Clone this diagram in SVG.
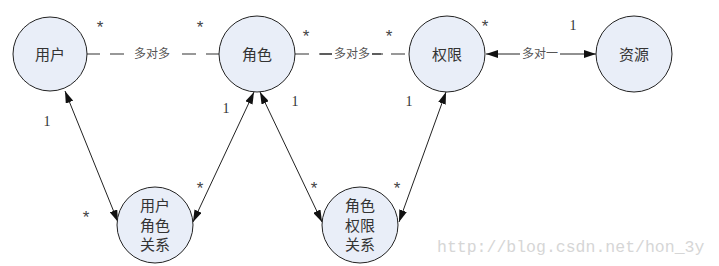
<svg xmlns="http://www.w3.org/2000/svg" width="719" height="266" viewBox="0 0 719 266">
<style>
.node{fill:#e9eef8;stroke:#222;stroke-width:1}
.nl{font-family:"Noto Sans CJK SC","Noto Sans",sans-serif;font-size:15px;fill:#333;text-anchor:middle}
.el{font-family:"Noto Sans CJK SC","Noto Sans",sans-serif;font-size:12px;fill:#555;text-anchor:middle}
.m{font-family:"Liberation Serif",serif;font-size:14px;fill:#333;text-anchor:middle}
.s{font-family:"Liberation Sans",sans-serif;font-size:17px;fill:#444;text-anchor:middle}
.ln{stroke:#222;stroke-width:1;fill:none}
.dash{stroke:#333;stroke-width:1.2;stroke-dasharray:14 10;fill:none}
.wm{font-family:"Liberation Mono",monospace;font-size:16.5px;fill:#d6d6d6}
</style>
<defs>
<marker id="ah" viewBox="0 0 12 8" refX="12" refY="4" markerWidth="12" markerHeight="8" markerUnits="userSpaceOnUse" orient="auto-start-reverse">
<path d="M0,0 L12,4 L0,8 Z" fill="#111"/>
</marker>
</defs>
<rect width="719" height="266" fill="#fff"/>
<g id="connectors">
<line class="dash" x1="86" y1="54" x2="219" y2="54"/>
<rect x="130" y="45" width="44" height="18" fill="#fff"/>
<text class="el" x="152" y="58">多对多</text>
<line class="dash" x1="295" y1="54" x2="409" y2="54"/>
<rect x="332" y="45" width="40" height="18" fill="#fff"/>
<line class="ln" x1="320" y1="54" x2="332" y2="54"/>
<line class="ln" x1="372" y1="54" x2="383" y2="54"/>
<text class="el" x="352" y="58">多对多</text>
<line class="ln" x1="486" y1="54" x2="596" y2="54" marker-start="url(#ah)" marker-end="url(#ah)"/>
<rect x="520" y="45" width="40" height="18" fill="#fff"/>
<text class="el" x="540" y="58">多对一</text>
<line class="ln" x1="65" y1="91" x2="118" y2="222" marker-start="url(#ah)" marker-end="url(#ah)"/>
<line class="ln" x1="254" y1="92" x2="193" y2="222" marker-start="url(#ah)" marker-end="url(#ah)"/>
<line class="ln" x1="260" y1="92" x2="322" y2="222" marker-start="url(#ah)" marker-end="url(#ah)"/>
<line class="ln" x1="446" y1="92" x2="399" y2="222" marker-start="url(#ah)" marker-end="url(#ah)"/>
<text class="s" x="100" y="33">*</text>
<text class="s" x="200" y="33">*</text>
<text class="s" x="306" y="42">*</text>
<text class="s" x="389" y="42">*</text>
<text class="s" x="485" y="32">*</text>
<text class="m" x="573" y="30">1</text>
<text class="m" x="47" y="126">1</text>
<text class="m" x="226" y="113">1</text>
<text class="m" x="295" y="106">1</text>
<text class="m" x="409" y="106">1</text>
<text class="s" x="86" y="223">*</text>
<text class="s" x="200" y="194">*</text>
<text class="s" x="314" y="194">*</text>
<text class="s" x="397" y="194">*</text>
</g>
<g id="user">
<circle class="node" cx="50" cy="54" r="37"/>
<text class="nl" x="50" y="60">用户</text>
</g>
<g id="role">
<circle class="node" cx="257" cy="54" r="38"/>
<text class="nl" x="257" y="60">角色</text>
</g>
<g id="permission">
<circle class="node" cx="447" cy="54" r="38"/>
<text class="nl" x="447" y="60">权限</text>
</g>
<g id="resource">
<circle class="node" cx="634" cy="54" r="38"/>
<text class="nl" x="634" y="60">资源</text>
</g>
<g id="user-role">
<circle class="node" cx="155" cy="225" r="38"/>
<text class="nl" x="155" y="211">用户</text>
<text class="nl" x="155" y="231">角色</text>
<text class="nl" x="155" y="250">关系</text>
</g>
<g id="role-permission">
<circle class="node" cx="360" cy="225" r="38"/>
<text class="nl" x="360" y="211">角色</text>
<text class="nl" x="360" y="231">权限</text>
<text class="nl" x="360" y="250">关系</text>
</g>
<text class="wm" x="437" y="252">http://blog.csdn.net/hon_3y</text>
</svg>
